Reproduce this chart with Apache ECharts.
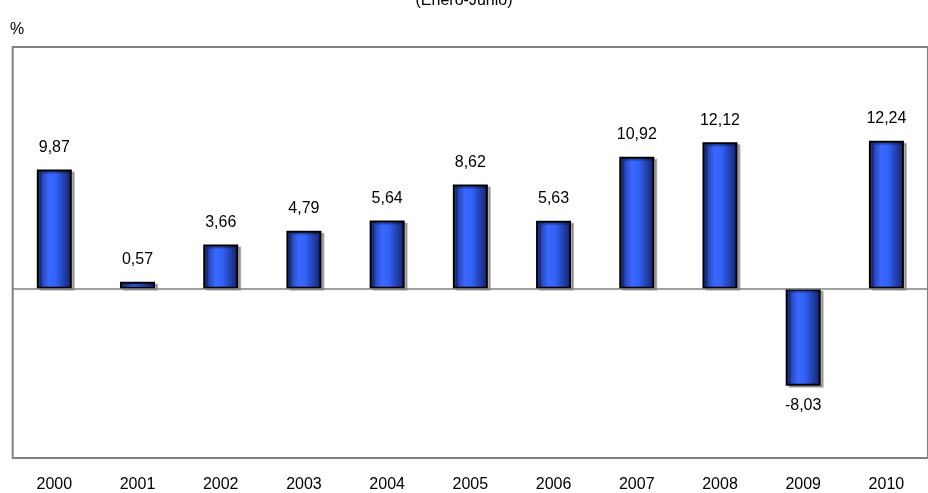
<!DOCTYPE html>
<html>
<head>
<meta charset="utf-8">
<script src="https://cdn.jsdelivr.net/npm/echarts@6/dist/echarts.min.js"></script>
<style>html,body{margin:0;padding:0;background:#fff}#c{width:928px;height:493px}</style>
</head>
<body>
<div id="c"></div>
<script>
const years = ['2000','2001','2002','2003','2004','2005','2006','2007','2008','2009','2010'];
const values = [9.87, 0.57, 3.66, 4.79, 5.64, 8.62, 5.63, 10.92, 12.12, -8.03, 12.24];
const titleText = '(Enero-Junio)';
const unitText = '%';

const FONT = "'Liberation Sans', Arial, sans-serif";
const FS = 16;
const chart = echarts.init(document.getElementById('c'), null, {renderer: 'canvas'});
const grad = new echarts.graphic.LinearGradient(0, 0, 1, 0, [
  {offset: 0, color: '#182a7e'},
  {offset: 0.35, color: '#3a68ff'},
  {offset: 0.55, color: '#3262f6'},
  {offset: 1, color: '#141f66'}
]);
chart.setOption({
  animation: false,
  backgroundColor: '#fff',
  graphic: [
    {type: 'text', left: 'center', top: -7, style: {text: titleText, font: FS + 'px ' + FONT, fill: '#000'}},
    {type: 'text', left: 10, top: 22, style: {text: unitText, font: FS + 'px ' + FONT, fill: '#000'}}
  ],
  grid: {left: 12.7, top: 47, height: 413, width: 931, show: true, borderColor: '#808080', borderWidth: 2, backgroundColor: 'transparent'},
  xAxis: {
    type: 'category', data: years,
    axisLine: {show: false, onZero: false},
    axisTick: {show: false},
    axisLabel: {margin: 19, color: '#000', fontSize: FS, fontFamily: FONT}
  },
  yAxis: {
    type: 'value', min: -14, max: 20,
    axisLine: {show: false}, axisTick: {show: false}, axisLabel: {show: false}, splitLine: {show: false}
  },
  series: [{
    type: 'bar',
    barWidth: 35,
    data: values.map(v => ({
      value: v,
      label: {position: v < 0 ? 'bottom' : 'top', distance: v < 0 ? 12 : 14}
    })),
    itemStyle: {color: grad, borderColor: '#000', borderWidth: 2, shadowColor: 'rgba(0,0,0,0.28)', shadowOffsetX: 3, shadowOffsetY: 2, shadowBlur: 0},
    label: {show: true, color: '#000', fontSize: FS, fontFamily: FONT, formatter: p => String(p.value).replace('.', ',')},
    markLine: {
      silent: true, symbol: 'none', label: {show: false},
      lineStyle: {color: '#808080', width: 1.5, type: 'solid'},
      data: [{yAxis: 0}]
    },
    z: 3
  }]
});
</script>
</body>
</html>
